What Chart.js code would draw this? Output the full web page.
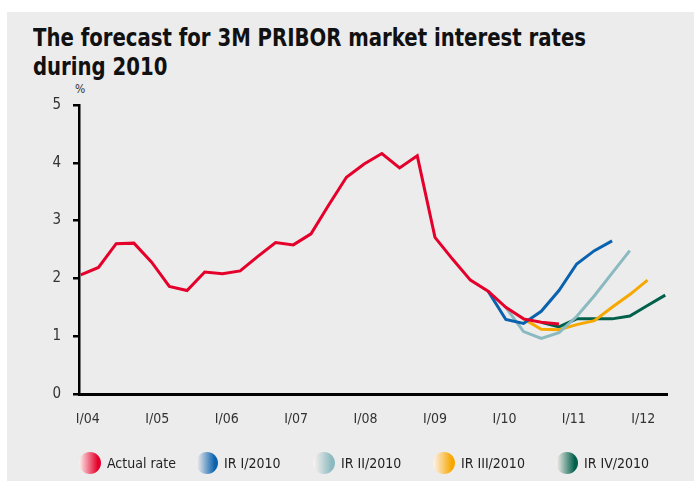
<!DOCTYPE html>
<html>
<head>
<meta charset="utf-8">
<script src="https://cdn.jsdelivr.net/npm/chart.js@4.4.1/dist/chart.umd.min.js"></script>
<style>
  body { margin: 0; background: #fff; width: 694px; height: 481px; overflow: hidden; position: relative; }
  #panel { position: absolute; left: 7px; top: 12px; width: 687px; height: 469px; background: #ececec; }
  #title { position: absolute; left: 33px; top: 23px; font: bold 25px "DejaVu Sans Condensed", sans-serif; line-height: 29px; color: #111; white-space: nowrap; transform-origin: 0 0; }
  #title span { display: inline-block; }
  #unit { position: absolute; left: 75px; top: 82px; font: 12px "DejaVu Sans Condensed", sans-serif; color: #333; }
  canvas { position: absolute; left: 0; top: 0; }
  .lg { position: absolute; top: 452px; height: 22px; display: flex; align-items: center; font: 14px "DejaVu Sans Condensed", sans-serif; color: #222; }
  .lg span.dot { width: 22px; height: 22px; border-radius: 50%; margin-right: 6px; }
</style>
</head>
<body>
<div id="panel"></div>
<div id="title"><span id="t1">The forecast for 3M PRIBOR market interest rates</span><br><span>during 2010</span></div>
<div id="unit">%</div>
<canvas id="chart" width="694" height="481"></canvas>
<div id="legend"></div>
<script>
// kvartály I/04 ... II/12
const quarters = [];
for (let y = 4; y <= 12; y++) {
    ['I', 'II', 'III', 'IV'].forEach(q => quarters.push(q + '/' + String(y).padStart(2, '0')));
}
const tickLabels = ['I/04', 'I/05', 'I/06', 'I/07', 'I/08', 'I/09', 'I/10', 'I/11', 'I/12'];

// skutečná sazba od I/04
const actualRate = [2.06, 2.19, 2.60, 2.61, 2.28, 1.86, 1.79, 2.11, 2.08, 2.13,
    2.38, 2.62, 2.58, 2.77, 3.27, 3.75, 3.98, 4.16, 3.91, 4.12,
    2.71, 2.33, 1.97, 1.78, 1.50, 1.30, 1.24, 1.21];
// prognózy (začátek = poslední známé čtvrtletí)
const irI = [1.78, 1.29, 1.22, 1.43, 1.79, 2.25, 2.48, 2.65];
const irII = [1.50, 1.08, 0.96, 1.06, 1.34, 1.70, 2.09, 2.48];
const irIII = [1.30, 1.12, 1.11, 1.20, 1.27, 1.50, 1.72, 1.97];
const irIV = [1.24, 1.16, 1.30, 1.30, 1.30, 1.35, 1.53, 1.71];

const series = [
    { label: 'Actual rate', start: 'I/04', values: actualRate, color: '#e4002b' },
    { label: 'IR I/2010', start: 'IV/09', values: irI, color: '#0a62ae' },
    { label: 'IR II/2010', start: 'I/10', values: irII, color: '#8ab9c0' },
    { label: 'IR III/2010', start: 'II/10', values: irIII, color: '#f7a800' },
    { label: 'IR IV/2010', start: 'III/10', values: irIV, color: '#00604b' }
];

const toPoints = s => {
    const i0 = quarters.indexOf(s.start);
    return s.values.map((v, i) => ({ x: i0 + i, y: v }));
};

// titulek zúžit na šířku originálu
const t1 = document.getElementById('t1');
document.getElementById('title').style.transform = 'scaleX(' + (553 / t1.getBoundingClientRect().width) + ')';

const font = "'DejaVu Sans Condensed', sans-serif";

new Chart(document.getElementById('chart'), {
    type: 'line',
    data: {
        datasets: series.map(s => ({
            label: s.label,
            data: toPoints(s),
            borderColor: s.color,
            borderWidth: 3,
            pointRadius: 0,
            tension: 0,
            fill: false
        }))
    },
    options: {
        responsive: false,
        animation: false,
        layout: { padding: { left: 0, top: 105, right: 27, bottom: 47 } },
        plugins: { legend: { display: false }, title: { display: false }, tooltip: { enabled: false } },
        scales: {
            x: {
                type: 'linear',
                min: -0.1,
                max: 33.1,
                afterFit: s => { s.height = 40; },
                // popisky v originále leží trochu hustěji než data
                afterBuildTicks: s => {
                    s.ticks = tickLabels.map(l => ({ value: quarters.indexOf(l) * 0.98 + 0.4 }));
                },
                ticks: {
                    autoSkip: false,
                    maxRotation: 0,
                    padding: 17,
                    color: '#333',
                    font: { family: font, size: 14 },
                    callback: (v, i) => tickLabels[i]
                },
                grid: { display: false, drawTicks: false },
                border: { color: '#000', width: 3 }
            },
            y: {
                min: 0,
                max: 5,
                afterFit: s => { s.width = 79; },
                ticks: {
                    stepSize: 1,
                    padding: 12,
                    color: '#333',
                    font: { family: font, size: 15 }
                },
                grid: { drawOnChartArea: false, drawTicks: true, tickLength: 6, color: '#000', lineWidth: 2.5 },
                border: { color: '#000', width: 2.5 }
            }
        }
    }
});

// legenda s kuličkami
const legendLeft = [79, 196, 313, 433, 556];
const legend = document.getElementById('legend');
series.forEach((s, i) => {
    const item = document.createElement('div');
    item.className = 'lg';
    item.style.left = legendLeft[i] + 'px';
    item.innerHTML = '<span class="dot" style="background: linear-gradient(90deg, #fdf3f0 0%, ' + s.color + ' 85%)"></span>' + s.label;
    legend.appendChild(item);
});
</script>
</body>
</html>
